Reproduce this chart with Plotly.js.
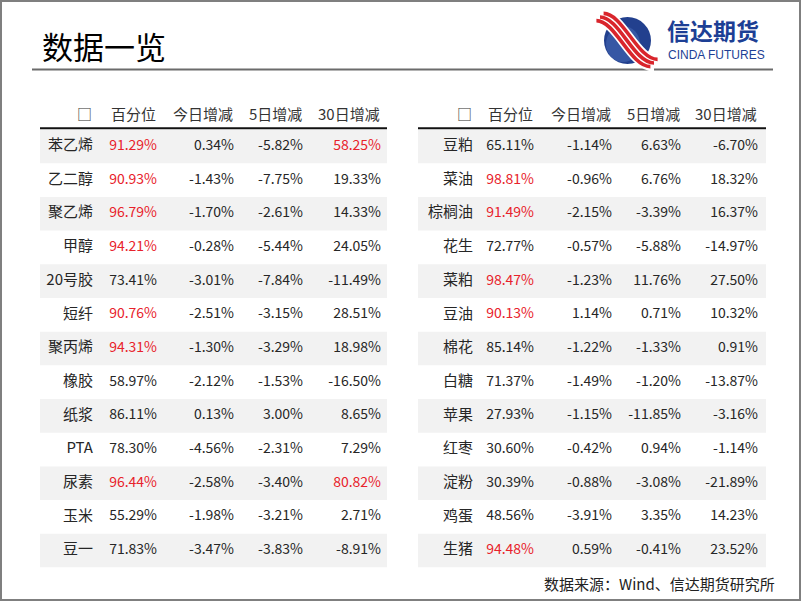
<!DOCTYPE html>
<html>
<head>
<meta charset="utf-8">
<script src="https://cdn.plot.ly/plotly-3.0.1.min.js"></script>
<style>html,body{margin:0;padding:0;background:#fff;}#chart{width:802px;height:602px;}</style>
</head>
<body>
<div id="chart"></div>
<script>
// ---------------- data ----------------
var headers = ['□', '百分位', '今日增减', '5日增减', '30日增减'];

var leftNames = ['苯乙烯','乙二醇','聚乙烯','甲醇','20号胶','短纤','聚丙烯','橡胶','纸浆','PTA','尿素','玉米','豆一'];
var leftPct   = [91.29, 90.93, 96.79, 94.21, 73.41, 90.76, 94.31, 58.97, 86.11, 78.30, 96.44, 55.29, 71.83];
var leftD1    = [0.34, -1.43, -1.70, -0.28, -3.01, -2.51, -1.30, -2.12, 0.13, -4.56, -2.58, -1.98, -3.47];
var leftD5    = [-5.82, -7.75, -2.61, -5.44, -7.84, -3.15, -3.29, -1.53, 3.00, -2.31, -3.40, -3.21, -3.83];
var leftD30   = [58.25, 19.33, 14.33, 24.05, -11.49, 28.51, 18.98, -16.50, 8.65, 7.29, 80.82, 2.71, -8.91];

var rightNames = ['豆粕','菜油','棕榈油','花生','菜粕','豆油','棉花','白糖','苹果','红枣','淀粉','鸡蛋','生猪'];
var rightPct   = [65.11, 98.81, 91.49, 72.77, 98.47, 90.13, 85.14, 71.37, 27.93, 30.60, 30.39, 48.56, 94.48];
var rightD1    = [-1.14, -0.96, -2.15, -0.57, -1.23, 1.14, -1.22, -1.49, -1.15, -0.42, -0.88, -3.91, 0.59];
var rightD5    = [6.63, 6.76, -3.39, -5.88, 11.76, 0.71, -1.33, -1.20, -11.85, 0.94, -3.08, 3.35, -0.41];
var rightD30   = [-6.70, 18.32, 16.37, -14.97, 27.50, 10.32, 0.91, -13.87, -3.16, -1.14, -21.89, 14.23, 23.52];

var titleText = '数据一览';
var sourceText = '数据来源：Wind、信达期货研究所';
var logoCn = '信达期货';
var logoEn = 'CINDA FUTURES';

// ---------------- style / layout constants ----------------
var W = 802, H = 602;
var FONT = '"Noto Sans CJK SC", "Noto Sans", sans-serif';
var RED = '#e8222b', TXT = '#262626', BAND = '#f2f2f2';
var leftCols  = [93, 157, 234, 303, 381];   // right edge of each column (px)
var rightCols = [473, 534, 612, 681, 758];
var leftSpan = [40, 387], rightSpan = [418, 766];
var rowTop = 129.5, rowBottom = 567.5, headerY = 113, ruleY = 128.3;

function fmt(v) { return v.toFixed(2) + '%'; }
function pctColor(arr) { return arr.map(function (v) { return v >= 90 ? RED : TXT; }); }
function d30Color(arr) { return arr.map(function (v) { return v > 50 ? RED : TXT; }); }

function tableTraces(names, pct, d1, d5, d30, cols, yax) {
  var cells = [
    {text: names, color: TXT, size: 15},
    {text: pct.map(fmt), color: pctColor(pct), size: 14},
    {text: d1.map(fmt), color: TXT, size: 14},
    {text: d5.map(fmt), color: TXT, size: 14},
    {text: d30.map(fmt), color: d30Color(d30), size: 14}
  ];
  return cells.map(function (c, j) {
    return {
      type: 'scatter', mode: 'text', xaxis: 'x', yaxis: yax,
      x: names.map(function () { return cols[j]; }),
      y: names,
      text: c.text,
      textposition: 'middle left',
      textfont: {family: FONT, size: c.size, color: c.color},
      hoverinfo: 'skip', showlegend: false, cliponaxis: false
    };
  });
}

var data = [].concat(
  tableTraces(leftNames, leftPct, leftD1, leftD5, leftD30, leftCols, 'y2'),
  tableTraces(rightNames, rightPct, rightD1, rightD5, rightD30, rightCols, 'y3')
);

var shapes = [];
// outer frame
shapes.push({type: 'rect', xref: 'x', yref: 'y', x0: 1, x1: 800, y0: 1, y1: 600,
  line: {color: '#7f7f7f', width: 2}, fillcolor: 'rgba(0,0,0,0)', layer: 'below'});
// title rule
shapes.push({type: 'line', xref: 'x', yref: 'y', x0: 32, x1: 773, y0: 69.5, y1: 69.5,
  line: {color: '#6b6b6b', width: 2}});
// zebra bands (category index)
function bands(names, span, yref) {
  names.forEach(function (n, i) {
    if (i % 2 === 0) {
      shapes.push({type: 'rect', xref: 'x', yref: yref, x0: span[0], x1: span[1],
        y0: i - 0.5, y1: i + 0.5, fillcolor: BAND, line: {width: 0}, layer: 'below'});
    }
  });
}
bands(leftNames, leftSpan, 'y2');
bands(rightNames, rightSpan, 'y3');
// header rules
[leftSpan, rightSpan].forEach(function (s) {
  shapes.push({type: 'line', xref: 'x', yref: 'y', x0: s[0], x1: s[1], y0: ruleY, y1: ruleY,
    line: {color: '#111111', width: 2}});
});
// logo globe
shapes.push({type: 'circle', xref: 'x', yref: 'y', x0: 604, x1: 651, y0: 17, y1: 64,
  fillcolor: '#22408e', line: {width: 0}});
shapes.push({type: 'circle', xref: 'x', yref: 'y', x0: 606, x1: 640, y0: 26, y1: 62,
  fillcolor: 'rgba(80,115,190,0.45)', line: {width: 0}});
// logo stripes (white backing then red)
function sPath(dx, dy) {
  return 'M ' + (600 + dx) + ' ' + (17 + dy) + ' C ' + (619 + dx) + ' ' + (17 + dy) + ', ' +
    (634 + dx) + ' ' + (63 + dy) + ', ' + (654 + dx) + ' ' + (63 + dy);
}
shapes.push({type: 'path', xref: 'x', yref: 'y', path: sPath(0, 0), line: {color: '#ffffff', width: 17}});
[-1, 0, 1].forEach(function (k) {
  shapes.push({type: 'path', xref: 'x', yref: 'y', path: sPath(k * 3.6, -k * 3.6),
    line: {color: '#d9252c', width: 3.6}});
});

var annotations = [];
annotations.push({xref: 'x', yref: 'y', x: 40, y: 45, xanchor: 'left', yanchor: 'middle',
  text: titleText, showarrow: false, font: {family: FONT, size: 31, color: '#000'}});
annotations.push({xref: 'x', yref: 'y', x: 666, y: 30, xanchor: 'left', yanchor: 'middle',
  text: '<b>' + logoCn + '</b>', showarrow: false, borderpad: 0,
  font: {family: FONT, size: 23, color: '#1d3f95'}});
annotations.push({xref: 'x', yref: 'y', x: 667, y: 54.5, xanchor: 'left', yanchor: 'middle',
  text: logoEn, showarrow: false, borderpad: 0,
  font: {family: '"Liberation Sans Narrow", "Liberation Sans", sans-serif', size: 12, color: '#1d3f95'}});
function headerAnn(cols) {
  headers.forEach(function (h, j) {
    annotations.push({xref: 'x', yref: 'y', x: cols[j], y: headerY, xanchor: 'right', yanchor: 'middle',
      text: h, showarrow: false, borderpad: 0,
      font: {family: FONT, size: 15, color: '#333333'}});
  });
}
headerAnn(leftCols);
headerAnn(rightCols);
annotations.push({xref: 'x', yref: 'y', x: 777, y: 583, xanchor: 'right', yanchor: 'middle',
  text: sourceText, showarrow: false, font: {family: FONT, size: 15, color: '#222222'}});

var layout = {
  width: W, height: H,
  margin: {l: 0, r: 0, t: 0, b: 0, pad: 0},
  paper_bgcolor: '#ffffff', plot_bgcolor: 'rgba(0,0,0,0)',
  showlegend: false, hovermode: false,
  xaxis: {range: [0, W], domain: [0, 1], visible: false, fixedrange: true},
  yaxis: {range: [H, 0], domain: [0, 1], visible: false, fixedrange: true},
  yaxis2: {type: 'category', categoryarray: leftNames, categoryorder: 'array',
    range: [leftNames.length - 0.5, -0.5], domain: [1 - rowBottom / H, 1 - rowTop / H],
    anchor: 'x', visible: false, fixedrange: true},
  yaxis3: {type: 'category', categoryarray: rightNames, categoryorder: 'array',
    range: [rightNames.length - 0.5, -0.5], overlaying: 'y2', anchor: 'x',
    visible: false, fixedrange: true},
  shapes: shapes,
  annotations: annotations
};

Plotly.newPlot('chart', data, layout, {staticPlot: true, displayModeBar: false});
</script>
</body>
</html>
